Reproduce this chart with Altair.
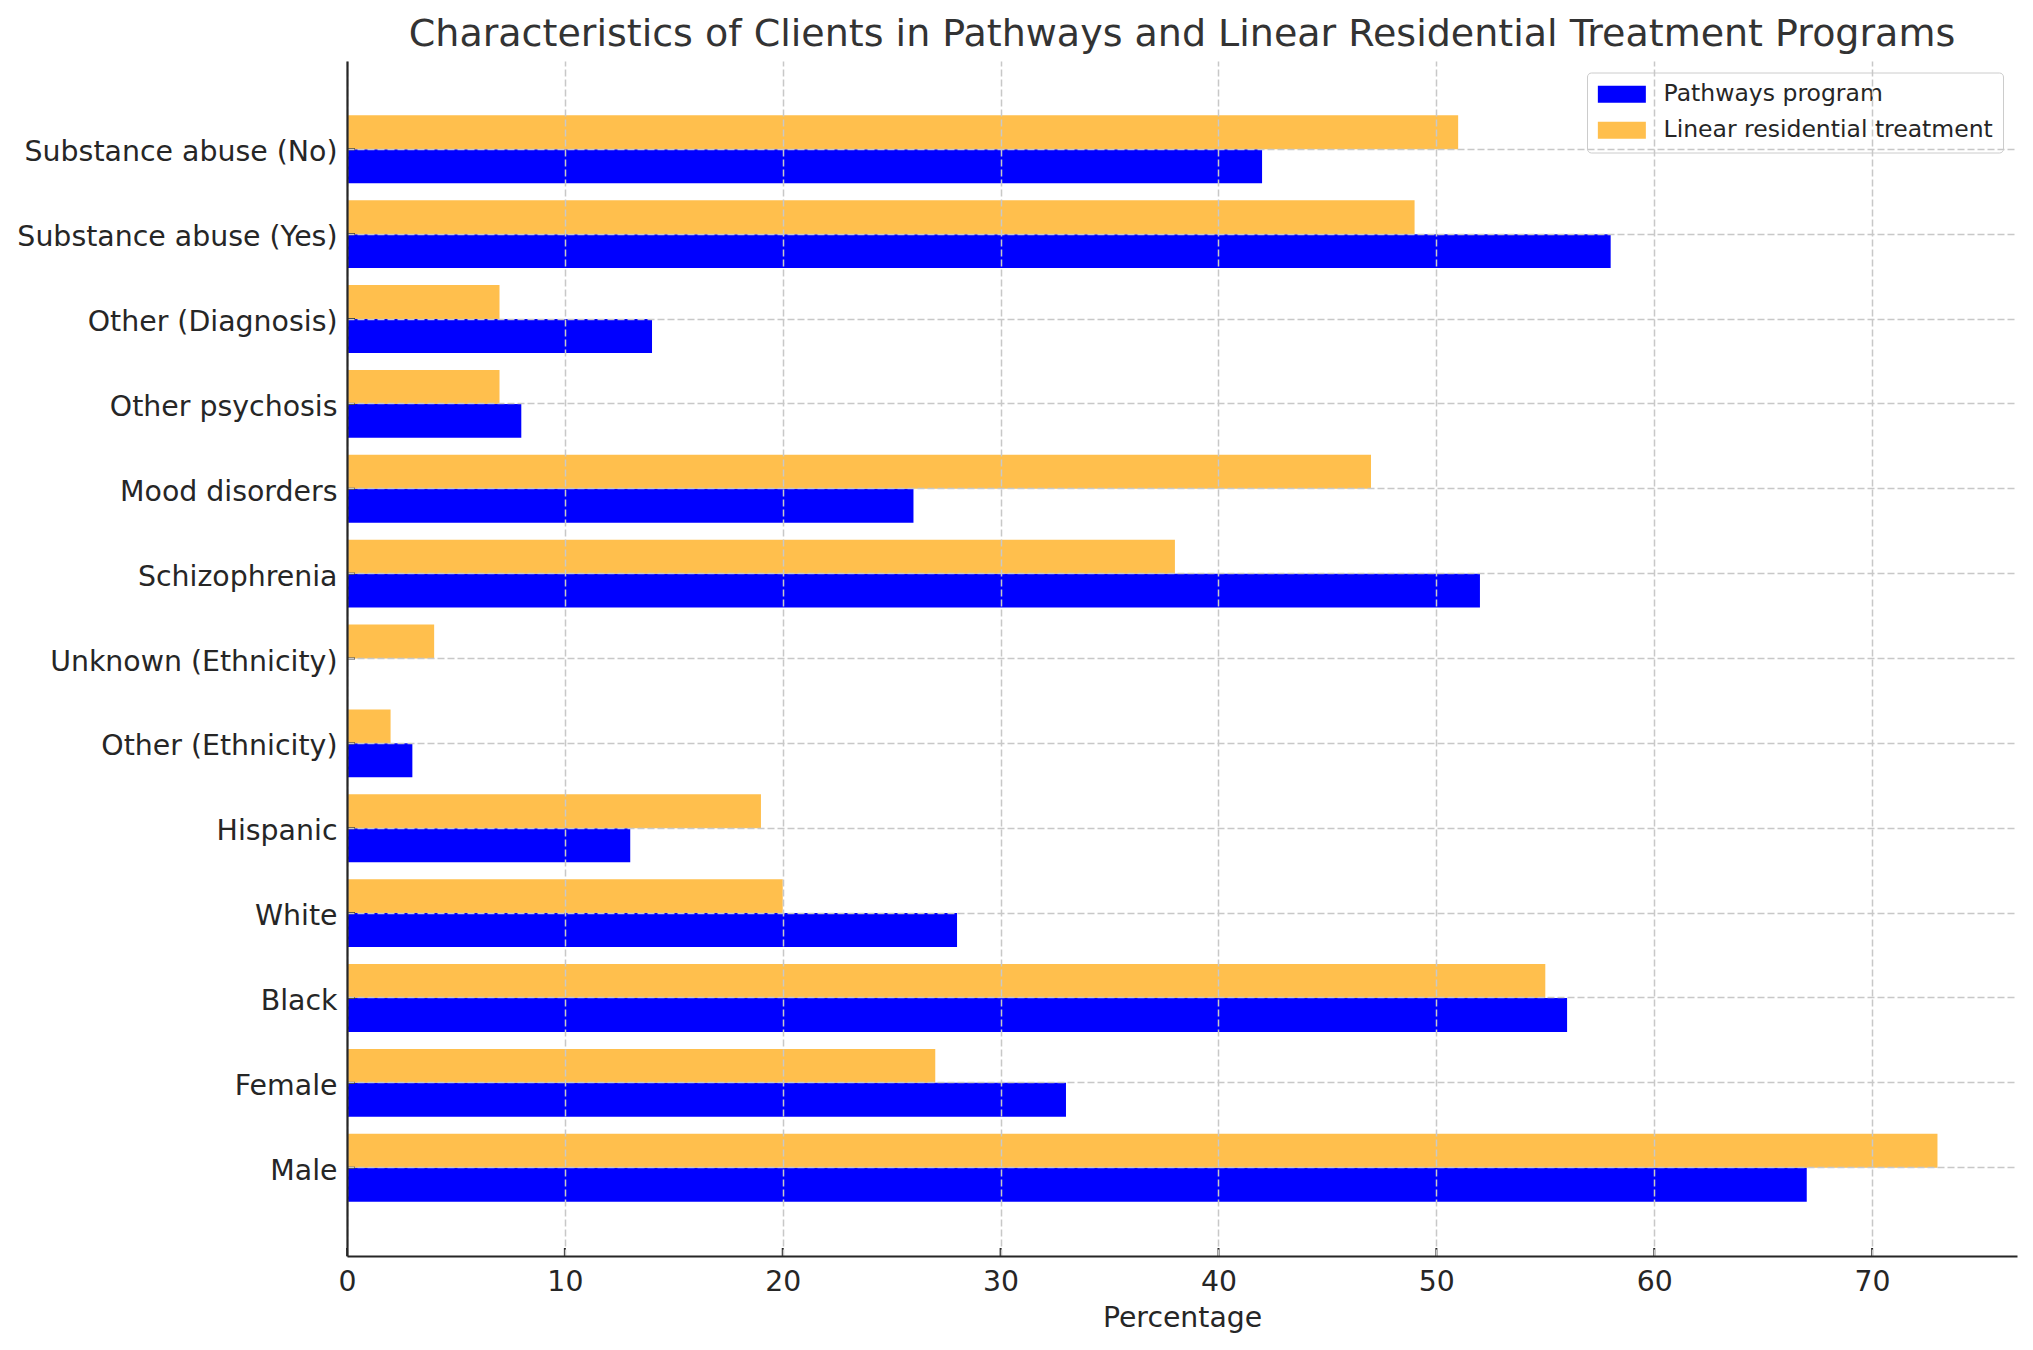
import altair as alt
import pandas as pd

categories = [
    "Substance abuse (No)", "Substance abuse (Yes)", "Other (Diagnosis)",
    "Other psychosis", "Mood disorders", "Schizophrenia",
    "Unknown (Ethnicity)", "Other (Ethnicity)", "Hispanic", "White",
    "Black", "Female", "Male",
]
pathways = [42, 58, 14, 8, 26, 52, 0, 3, 13, 28, 56, 33, 67]
linear = [51, 49, 7, 7, 47, 38, 4, 2, 19, 20, 55, 27, 73]
series_names = ["Pathways program", "Linear residential treatment"]
series_colors = ["#0000ff", "#ffbf4d"]
x_ticks = [0, 10, 20, 30, 40, 50, 60, 70]

rows = []
for c, p, l in zip(categories, pathways, linear):
    rows.append({"category": c, "series": series_names[0], "value": p})
    rows.append({"category": c, "series": series_names[1], "value": l})
df = pd.DataFrame(rows)

W, H = 1670, 1195
FONT = "DejaVu Sans"
TXT = "#262626"
GRID = "#c8c8c8"

y_scale = alt.Scale(paddingInner=0.2, paddingOuter=0.64, round=False)

bars = alt.Chart(df).mark_bar().encode(
    x=alt.X(
        "value:Q",
        scale=alt.Scale(domain=[0, 76.65], nice=False, zero=True),
        axis=alt.Axis(
            values=x_ticks, title="Percentage", grid=True, gridDash=[7, 3],
            gridColor=GRID, gridWidth=1.5, ticks=False, labelPadding=12,
            titlePadding=9, domainColor=TXT, domainWidth=2.2,
            labelFontSize=28.3, titleFontSize=28.3, labelFont=FONT,
            titleFont=FONT, titleFontWeight="normal", labelColor=TXT,
            titleColor=TXT, zindex=1, labelFlush=False, format="d",
        ),
    ),
    y=alt.Y(
        "category:N", sort=categories, scale=y_scale,
        axis=alt.Axis(
            title=None, bandPosition=0.5, grid=True, gridDash=[7, 3],
            gridColor=GRID, gridWidth=1.5, ticks=False, labelPadding=10,
            labelOffset=3,
            domainColor=TXT, domainWidth=2.2, labelFontSize=28.4,
            labelFont=FONT, labelColor=TXT, zindex=1, labelLimit=500,
        ),
    ),
    yOffset=alt.YOffset(
        "series:N", sort=[series_names[1], series_names[0]],
        scale=alt.Scale(paddingInner=0, paddingOuter=0),
    ),
    color=alt.Color(
        "series:N",
        scale=alt.Scale(domain=series_names, range=series_colors),
        legend=alt.Legend(
            title=None, orient="none", legendX=1240, legendY=11.5,
            symbolType="M-2.824,-1H2.824V1H-2.824Z", symbolSize=289,
            symbolOffset=13.1,
            symbolStrokeWidth=0, labelFontSize=23.5, labelFont=FONT,
            labelColor=TXT, labelOffset=30, rowPadding=11, padding=10,
            strokeColor="#cccccc", fillColor="white", cornerRadius=4,
            labelLimit=600,
        ),
    ),
)

xt = alt.Chart(pd.DataFrame({"t": x_ticks})).mark_rule(
    color=TXT, strokeWidth=2
).encode(x=alt.X("t:Q"), y=alt.value(H - 8), y2=alt.value(H))

yt = alt.Chart(pd.DataFrame({"category": categories})).mark_rule(
    color=TXT, strokeWidth=2
).encode(
    y=alt.Y("category:N", sort=categories, bandPosition=0.5),
    x=alt.value(0), x2=alt.value(8),
)

chart = alt.layer(bars, xt, yt).properties(
    width=W, height=H,
    title=alt.TitleParams(
        "Characteristics of Clients in Pathways and Linear Residential Treatment Programs",
        fontSize=38, font=FONT, fontWeight="normal", color="#333333",
        anchor="middle", offset=7,
    ),
    autosize="none",
    padding={"left": 339, "top": 53, "right": 8, "bottom": 86},
).configure_view(stroke=None)

chart.save("out.html", embed_options={"renderer": "svg", "actions": False})
